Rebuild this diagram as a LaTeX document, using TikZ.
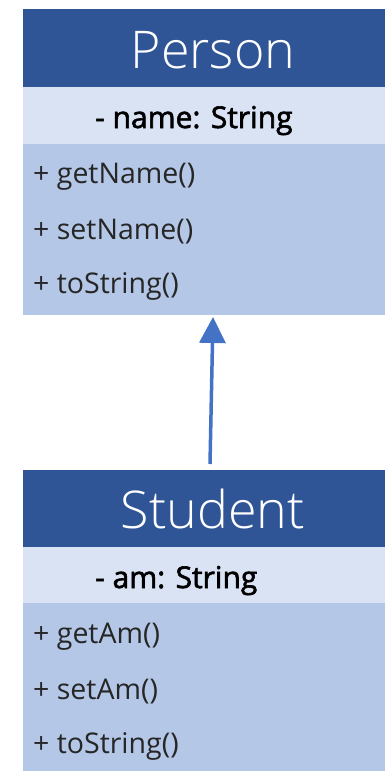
\documentclass[tikz,border=0pt]{standalone}
\usepackage{fontspec}
\setmainfont{Open Sans}
\newfontfamily\lightfont{Open Sans Light}
\newfontfamily\semifont{Open Sans}[FakeBold=2]
\usepackage{tikz}
\usetikzlibrary{arrows.meta}
\definecolor{headblue}{RGB}{47,85,151}
\definecolor{attrblue}{RGB}{218,227,243}
\definecolor{methblue}{RGB}{180,199,231}
\definecolor{arrblue}{RGB}{68,114,196}

\begin{document}
\begin{tikzpicture}[x=1pt,y=-1pt,
    box/.style={anchor=north west, inner sep=0pt, minimum width=362pt},
    headtxt/.style={text=white, font=\lightfont\fontsize{52}{52}\selectfont, anchor=base, inner sep=0pt},
    attrtxt/.style={text=black, font=\semifont\fontsize{30}{30}\selectfont, anchor=base west, inner sep=0pt},
    methtxt/.style={text=black!85, font=\fontsize{28.5}{28.5}\selectfont, anchor=base west, inner sep=0pt}]
      \useasboundingbox (0,0) rectangle (385,771);

      % Person
      \node (phead) at (23,9)   [box, fill=headblue, minimum height=78pt] {};
      \node (pattr) at (23,87)  [box, fill=attrblue, minimum height=57pt] {};
      \node (pmeth) at (23,144) [box, fill=methblue, minimum height=171pt] {};
      \node (pname) at (213,68) [headtxt] {Person};
      \node (pa1) at (95,128)   [attrtxt] {- name: String};
      \node (pm1) at (33,183)   [methtxt] {+ getName()};
      \node (pm2) at (33,239)   [methtxt] {+ setName()};
      \node (pm3) at (33,293)   [methtxt] {+ toString()};

      % Student
      \node (shead) at (23,470) [box, fill=headblue, minimum height=77pt] {};
      \node (sattr) at (23,547) [box, fill=attrblue, minimum height=56pt] {};
      \node (smeth) at (23,603) [box, fill=methblue, minimum height=168pt] {};
      \node (sname) at (213,528) [headtxt] {Student};
      \node (sa1) at (95,588)   [attrtxt] {- am: String};
      \node (sm1) at (33,643)   [methtxt] {+ getAm()};
      \node (sm2) at (33,699)   [methtxt] {+ setAm()};
      \node (sm3) at (33,753)   [methtxt] {+ toString()};

      % generalisation
      \coordinate (tail) at (210,464);
      \coordinate (tip) at (213,317);
      \draw[arrblue, line width=3.5pt, -{Triangle[width=26pt,length=26pt]}] (tail) -- (tip);
\end{tikzpicture}
\end{document}
